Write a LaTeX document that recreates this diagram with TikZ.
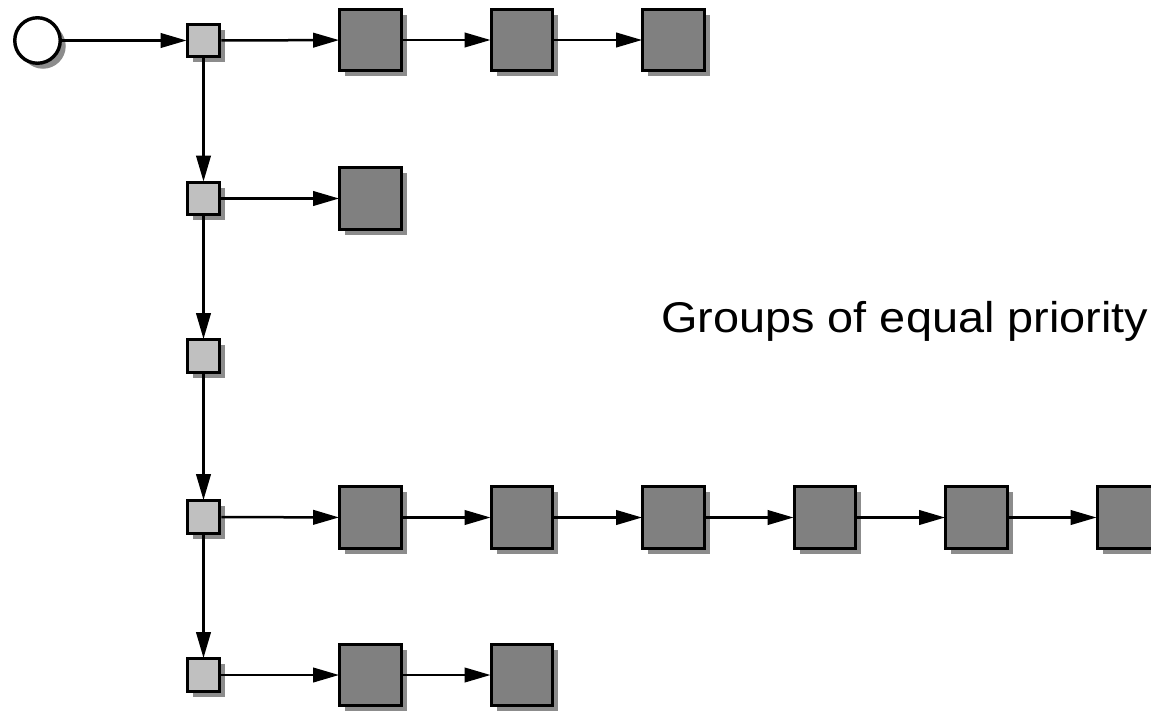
\documentclass[tikz,border=0pt]{standalone}
\usepackage{graphicx}
\usepackage{fontspec}
\newfontfamily\labelfont{Liberation Sans}
\usetikzlibrary{arrows.meta,shadows}

\definecolor{shadowgray}{HTML}{8C8C8C}
\definecolor{lightbox}{HTML}{C0C0C0}
\definecolor{darkbox}{HTML}{808080}

\tikzset{
  shade box/.style={drop shadow={shadow xshift=5.5pt, shadow yshift=-5.5pt,
      fill=shadowgray, opacity=1}},
  startnode/.style={circle, draw=black, line width=3.4pt, fill=white,
      minimum size=45.5pt, inner sep=0pt, shade box},
  hub/.style={rectangle, draw=black, line width=3.4pt, fill=lightbox,
      minimum size=32.5pt, inner sep=0pt, shade box},
  item/.style={rectangle, draw=black, line width=3.4pt, fill=darkbox,
      minimum size=61.5pt, inner sep=0pt, shade box},
  link/.style={draw=black, line width=2.5pt,
      -{Triangle[length=26pt, width=14.5pt]}, shorten >=-1pt},
}

\begin{document}
\begin{tikzpicture}[x=1pt, y=-1pt]
  \useasboundingbox (0,0) rectangle (1151,710);

  % start circle
  \node[startnode] (start) at (37.5,40.5) {};

  % group heads
  \node[hub] (h1) at (203.5,40.5) {};
  \node[hub] (h2) at (203.5,198.5) {};
  \node[hub] (h3) at (203.5,356) {};
  \node[hub] (h4) at (203.5,517) {};
  \node[hub] (h5) at (203.5,675) {};

  % group members
  \node[item] (a1) at (370.5,40) {};
  \node[item] (a2) at (522,40) {};
  \node[item] (a3) at (673.5,40) {};

  \node[item] (b1) at (370.5,198.5) {};

  \node[item] (d1) at (370.5,517.5) {};
  \node[item] (d2) at (522,517.5) {};
  \node[item] (d3) at (673.5,517.5) {};
  \node[item] (d4) at (825,517.5) {};
  \node[item] (d5) at (976.5,517.5) {};
  \node[item] (d6) at (1128,517.5) {};

  \node[item] (e1) at (370.5,675) {};
  \node[item] (e2) at (522,675) {};

  % label, widened slightly
  \node[anchor=base west, inner sep=0pt, font=\labelfont\fontsize{43}{50}\selectfont]
    (label) at (661,332) {\scalebox{1.09}[1]{Groups of equal priority}};

  % connectors
  \draw[link] (start) -- (h1);
  \draw[link] (h1) -- (h2);
  \draw[link] (h2) -- (h3);
  \draw[link] (h3) -- (h4);
  \draw[link] (h4) -- (h5);

  \draw[link] (h1) -- (a1);
  \draw[link] (a1) -- (a2);
  \draw[link] (a2) -- (a3);

  \draw[link] (h2) -- (b1);

  \draw[link] (h4) -- (d1);
  \draw[link] (d1) -- (d2);
  \draw[link] (d2) -- (d3);
  \draw[link] (d3) -- (d4);
  \draw[link] (d4) -- (d5);
  \draw[link] (d5) -- (d6);

  \draw[link] (h5) -- (e1);
  \draw[link] (e1) -- (e2);
\end{tikzpicture}
\end{document}
